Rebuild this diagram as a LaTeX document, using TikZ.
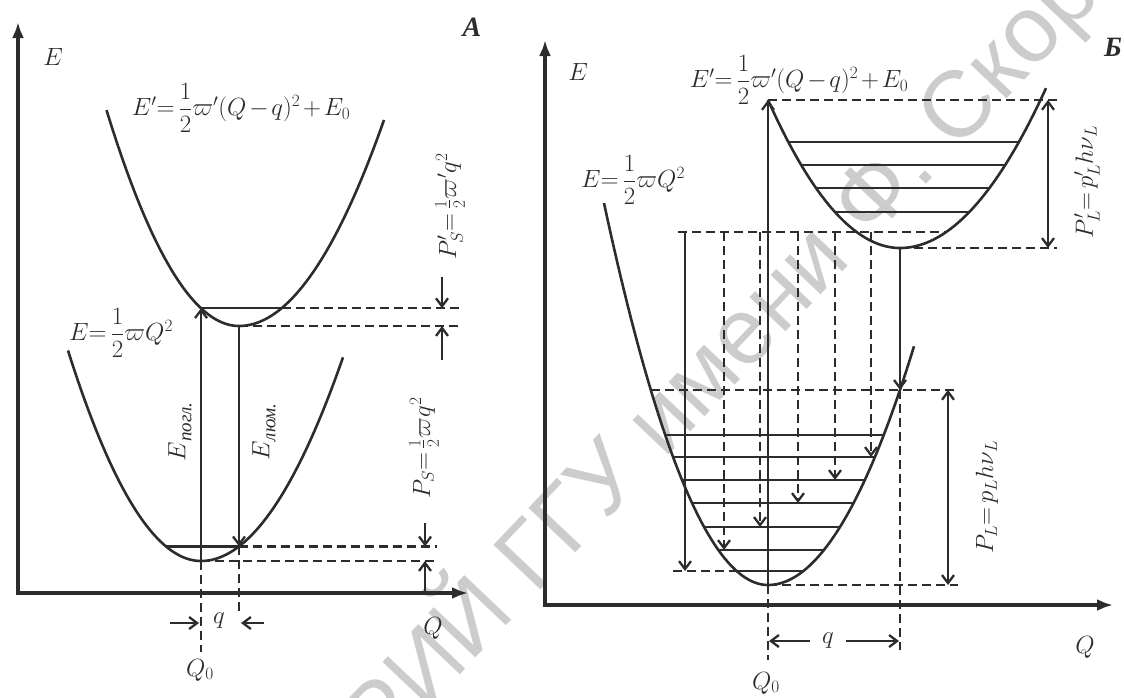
\documentclass[tikz,border=0pt]{standalone}
\usepackage{amsmath}
\usepackage{fontspec}
\newfontfamily\cyr{Liberation Serif}
\newfontfamily\wmfont{Liberation Sans}
\usetikzlibrary{arrows.meta}
\definecolor{ink}{HTML}{2c2c2c}
\newcommand{\hlf}{\genfrac{}{}{}{0}{1}{2}}
\newcommand{\tight}{\medmuskip=2mu\thickmuskip=3mu}
\newcommand{\cyrsub}[1]{\raisebox{-6pt}{\cyr\itshape\fontsize{19}{20}\selectfont #1}}
\begin{document}
\begin{tikzpicture}[x=1pt,y=-1pt,
  every node/.style={text=ink,inner sep=0pt,font=\fontsize{23}{27}\selectfont\tight},
  axis/.style={draw=ink,line width=3.3pt,line join=miter,{Latex[length=16pt,width=12pt]}-{Latex[length=16pt,width=12pt]}},
  curve/.style={draw=ink,line width=2.6pt},
  lvl/.style={draw=ink,line width=2.3pt},
  dsh/.style={draw=ink,line width=2.3pt,dash pattern=on 9pt off 5pt},
  barb/.style={-{Straight Barb[length=8pt,width=12pt]}},
  dbarb/.style={{Straight Barb[length=8pt,width=12pt]}-{Straight Barb[length=8pt,width=12pt]}},
  wm/.style={text=black!20,font=\wmfont\fontsize{94}{96}\selectfont,rotate=46.5},
  big/.style={font=\cyr\bfseries\itshape\fontsize{28}{30}\selectfont}]
\useasboundingbox (0,0) rectangle (1124,697);
\begin{scope}
\clip (0,0) rectangle (1124,697);
\node[wm] (wmark) at (600,480) {РЕПОЗИТОРИЙ ГГУ имени Ф. Скорины};
\end{scope}

% ================= LEFT PANEL (A) =================
\coordinate (LEtop) at (18,22);
\coordinate (Lorig) at (18,593);
\coordinate (LQend) at (468,593);
\draw[axis] (LEtop) -- (Lorig) -- (LQend);

% lower parabola E = 1/2 w Q^2 (centre Q0 = 201, min 561)
\draw[curve] plot[domain=68:201,samples=40] (\x,{561-1.19*((\x-201)/10)*((\x-201)/10)})
  -- plot[domain=201:343,samples=40] (\x,{561-1.01*((\x-201)/10)*((\x-201)/10)});
% upper parabola (centre 239, min 326)
\draw[curve] plot[domain=106.5:239,samples=40] (\x,{326-1.23*((\x-239)/10)*((\x-239)/10)})
  -- plot[domain=239:384,samples=40] (\x,{326-0.98*((\x-239)/10)*((\x-239)/10)});

\coordinate (LaB) at (201,561);
\coordinate (LaT) at (201,308.2);
\coordinate (LuR) at (281.6,308.2);
\coordinate (LeT) at (239,326);
\coordinate (LeB) at (239,546.4);
\coordinate (LlL) at (166,546.4);

\draw[lvl] (LaT) -- (LuR);
\draw[lvl] (LlL) -- (LeB);
\draw[lvl,barb] (LaB) -- (LaT);
\draw[lvl,barb] (LeT) -- (LeB);

% dashed guides
\coordinate (Ld1) at (460,308.2);
\coordinate (Ld2) at (460,326);
\coordinate (Ld3) at (437,546.4);
\coordinate (Ld4) at (437,561);
\draw[dsh] (LuR) -- (Ld1);
\draw[dsh] (LeT) -- (Ld2);
\draw[dsh] (LeB) -- (Ld3);
\draw[dsh] (LaB) -- (Ld4);
\coordinate (LQ0b) at (201,652);
\coordinate (Lqb) at (239,615);
\draw[dsh] (LaB) -- (LQ0b);
\draw[dsh] (LeB) -- (Lqb);

% dimension arrows on the right
\coordinate (Lp1s) at (442,277); \coordinate (Lp1e) at (442,308.2);
\coordinate (Lp2s) at (442,360); \coordinate (Lp2e) at (442,326);
\coordinate (Lp3s) at (425,523); \coordinate (Lp3e) at (425,546.4);
\coordinate (Lp4s) at (425,593); \coordinate (Lp4e) at (425,561);
\draw[lvl,barb] (Lp1s) -- (Lp1e);
\draw[lvl,barb] (Lp2s) -- (Lp2e);
\draw[lvl,barb] (Lp3s) -- (Lp3e);
\draw[lvl,barb] (Lp4s) -- (Lp4e);

% q arrows
\coordinate (Lq1s) at (170,623); \coordinate (Lq1e) at (199,623);
\coordinate (Lq2s) at (264,623); \coordinate (Lq2e) at (241,623);
\draw[lvl,barb] (Lq1s) -- (Lq1e);
\draw[lvl,barb] (Lq2s) -- (Lq2e);

% labels
\node (LE) at (53,57) {$E$};
\node[big] (LA) at (472,27) {А};
\node (LupLab) at (241,108) {$E'\!=\hlf\varpi'(Q-q)^2+E_0$};
\node (LloLab) at (121,333) {$E\!=\hlf\varpi Q^2$};
\node[rotate=90] (Labs) at (180,432) {$E$\cyrsub{погл.}};
\node[rotate=90] (Llum) at (264,432) {$E$\cyrsub{люм.}};
\node[rotate=90] (LPs1) at (450,206) {$P'_S\!=\tfrac12\varpi' q^2$};
\node[rotate=90] (LPs) at (424,448) {$P_S\!=\tfrac12\varpi q^2$};
\node (Lq) at (219,621) {$q$};
\node (LQ0) at (200,670) {$Q_0$};
\node (LQ) at (433,628) {$Q$};

% ================= RIGHT PANEL (B) =================
\coordinate (REtop) at (545,40);
\coordinate (Rorig) at (545,605);
\coordinate (RQend) at (1113,605);
\draw[axis] (REtop) -- (Rorig) -- (RQend);

% lower parabola (centre 768, min 585)
\draw[curve] plot[domain=604:768,samples=50] (\x,{585-1.42*((\x-768)/10)*((\x-768)/10)})
  -- plot[domain=768:914,samples=50] (\x,{585-1.12*((\x-768)/10)*((\x-768)/10)});
% upper parabola (centre 900, min 248)
\draw[curve] plot[domain=768:900,samples=50] (\x,{248-0.85*((\x-900)/10)*((\x-900)/10)})
  -- plot[domain=900:1046,samples=50] (\x,{248-0.75*((\x-900)/10)*((\x-900)/10)});

% upper vibrational levels
\draw[lvl] (788.3,142) -- (1018.9,142);
\draw[lvl] (801.2,165) -- (1005.2,165);
\draw[lvl] (816.0,188) -- (989.4,188);
\draw[lvl] (834.9,212) -- (969.3,212);
% lower vibrational levels
\draw[lvl] (665.2,435) -- (883.7,435);
\draw[lvl] (673.1,457) -- (874.9,457);
\draw[lvl] (682.0,480) -- (864.8,480);
\draw[lvl] (692.0,503) -- (853.6,503);
\draw[lvl] (704.1,527) -- (840.0,527);
\draw[lvl] (718.4,550) -- (823.9,550);
\draw[lvl] (736.6,571) -- (803.4,571);

% key points
\coordinate (RaB) at (768,585);
\coordinate (RaT) at (768,99.9);
\coordinate (RuMin) at (900,248);
\coordinate (RcrR) at (900,389.85);
\coordinate (RcrL) at (650.8,389.85);

% dashed guides
\draw[dsh] (RaT) -- (1060,99.9);
\draw[dsh] (RuMin) -- (1057,248);
\draw[dsh] (678,232) -- (946.2,232);
\draw[dsh] (RcrL) -- (958,389.85);
\draw[dsh] (673,571) -- (736.6,571);
\draw[dsh] (RaB) -- (958,585);
\draw[dsh] (RcrR) -- (900,650);
\draw[dsh] (RaB) -- (768,660);

% transitions
\draw[lvl,barb] (RaB) -- (RaT);
\draw[lvl,barb] (RuMin) -- (RcrR);
\draw[lvl,barb] (685,232) -- (685,571);
\draw[dsh,barb] (724,232) -- (724,550);
\draw[dsh,barb] (760,232) -- (760,527);
\draw[dsh,barb] (798,232) -- (798,503);
\draw[dsh,barb] (835,232) -- (835,480);
\draw[dsh,barb] (871,232) -- (871,457);

% dimension arrows
\draw[lvl,dbarb] (1048,99.9) -- (1048,248);
\draw[lvl,dbarb] (948,389.85) -- (948,585);
\draw[lvl,barb] (810,641) -- (769,641);
\draw[lvl,barb] (846,641) -- (899,641);

% labels
\node (RE) at (578,72) {$E$};
\node[big] (RB) at (1113,47) {Б};
\node (RupLab) at (799,80) {$E'\!=\hlf\varpi'(Q-q)^2+E_0$};
\node (RloLab) at (633,180) {$E\!=\hlf\varpi Q^2$};
\node[rotate=90] (RPL1) at (1087,182) {$P'_L\!=p'_L h\nu_L$};
\node[rotate=90] (RPL) at (987,497) {$P_L\!=p_L h\nu_L$};
\node (Rq) at (828,641) {$q$};
\node (RQ0) at (766,683) {$Q_0$};
\node (RQ) at (1085,647) {$Q$};
\end{tikzpicture}
\end{document}
